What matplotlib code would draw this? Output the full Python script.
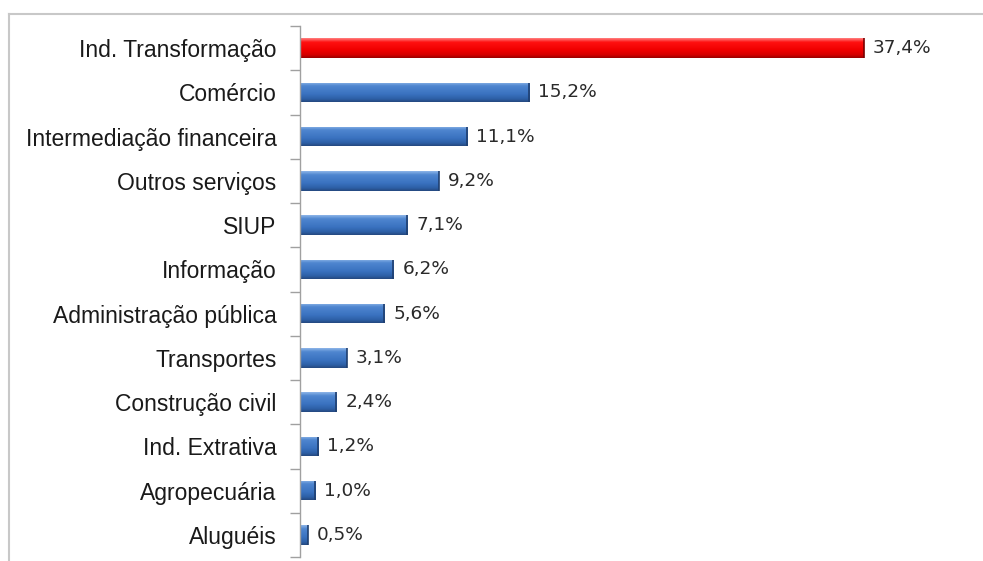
import numpy as np
import matplotlib
matplotlib.use("Agg")
import matplotlib.pyplot as plt
from matplotlib.colors import LinearSegmentedColormap
from matplotlib.lines import Line2D

categories = [
    "Ind. Transformação", "Comércio", "Intermediação financeira",
    "Outros serviços", "SIUP", "Informação", "Administração pública",
    "Transportes", "Construção civil", "Ind. Extrativa", "Agropecuária",
    "Aluguéis",
]
values = [37.4, 15.2, 11.1, 9.2, 7.1, 6.2, 5.6, 3.1, 2.4, 1.2, 1.0, 0.5]
value_labels = ["37,4%", "15,2%", "11,1%", "9,2%", "7,1%", "6,2%", "5,6%",
                "3,1%", "2,4%", "1,2%", "1,0%", "0,5%"]
highlight = "Ind. Transformação"

W, H = 983, 561
fig = plt.figure(figsize=(W / 100, H / 100), dpi=100)
fig.patch.set_facecolor("white")

ax = fig.add_axes([300 / W, 1 - 557 / H, (903 - 300) / W, (557 - 26) / H])

y = np.arange(len(categories))
bar_h = 0.44

blue_cmap = LinearSegmentedColormap.from_list(
    "blue3d", [(0.0, "#8db5e8"), (0.18, "#4f86d0"), (0.6, "#3a72c0"),
               (0.85, "#2d5fa6"), (1.0, "#24497f")])
red_cmap = LinearSegmentedColormap.from_list(
    "red3d", [(0.0, "#ff8080"), (0.2, "#ff1010"), (0.6, "#f00000"),
              (0.85, "#d40000"), (1.0, "#9a0000")])

bars = ax.barh(y, values, height=bar_h, color="none", edgecolor="none")
grad = np.linspace(0, 1, 64).reshape(-1, 1)
for cat, yc, v, rect in zip(categories, y, values, bars):
    cmap = red_cmap if cat == highlight else blue_cmap
    im = ax.imshow(grad, cmap=cmap, aspect="auto", origin="upper",
                   extent=(0, v, yc + bar_h / 2, yc - bar_h / 2),
                   interpolation="bilinear", zorder=2)
    im.set_clip_path(rect)
    # darker cap at the bar end
    ax.plot([v, v], [yc - bar_h / 2, yc + bar_h / 2],
            color="#7a0000" if cat == highlight else "#1f3f70",
            lw=1.2, zorder=3, solid_capstyle="butt")

for yc, v, lab in zip(y, values, value_labels):
    ax.annotate(lab, xy=(v, yc), xytext=(6.5, 0), textcoords="offset points",
                ha="left", va="center", fontsize=13.3,
                family="DejaVu Sans", color="#2a2a2a")

ax.set_xlim(0, 40)
ax.set_ylim(len(categories) - 0.5, -0.5)

ax.set_yticks(y)
ax.set_yticklabels(categories, fontsize=16.5, family="Liberation Sans",
                   color="#1a1a1a")
ax.set_yticks(np.arange(len(categories) + 1) - 0.5, minor=True)
ax.tick_params(axis="y", which="major", length=0, pad=17)
ax.tick_params(axis="y", which="minor", length=7, color="#a0a0a0", width=1)
ax.set_xticks([])

for s in ("top", "right", "bottom"):
    ax.spines[s].set_visible(False)
ax.spines["left"].set_color("#a0a0a0")
ax.spines["left"].set_linewidth(1)

# outer frame lines
fig.add_artist(Line2D([9 / W, 1], [1 - 14 / H, 1 - 14 / H],
                      transform=fig.transFigure, color="#c8c8c8", lw=1.5))
fig.add_artist(Line2D([9 / W, 9 / W], [0, 1 - 14 / H],
                      transform=fig.transFigure, color="#c8c8c8", lw=1.5))

fig.savefig("out.png", dpi=100, facecolor="white")
